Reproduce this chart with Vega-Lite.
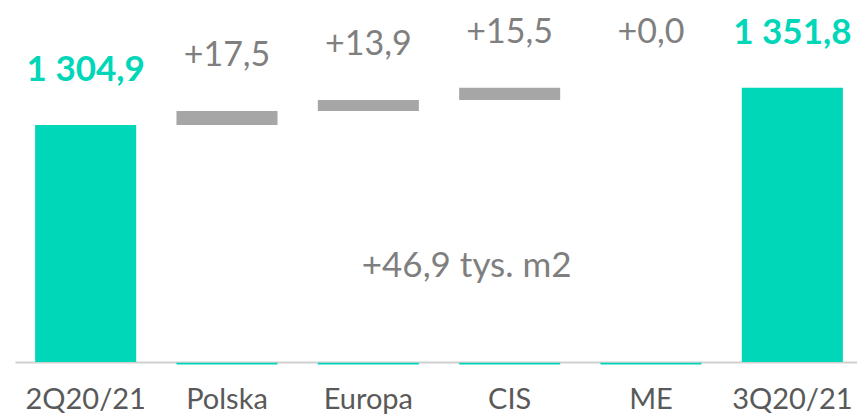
{
  "$schema": "https://vega.github.io/schema/vega-lite/v6.json",
  "autosize": "none",
  "width": 848,
  "height": 362,
  "padding": {"left": 15, "top": 0, "right": 0, "bottom": 52},
  "background": "white",
  "config": {"view": {"stroke": null}, "font": "Lato"},
  "data": {
    "values": [
      {"cat": "2Q20/21", "start": null, "end": 1304.9, "label": "1 304,9", "type": "total"},
      {"cat": "Polska", "start": 1304.9, "end": 1322.4, "label": "+17,5", "type": "step"},
      {"cat": "Europa", "start": 1322.4, "end": 1336.3, "label": "+13,9", "type": "step"},
      {"cat": "CIS", "start": 1336.3, "end": 1351.8, "label": "+15,5", "type": "step"},
      {"cat": "ME", "start": 1351.8, "end": 1351.8, "label": "+0,0", "type": "step"},
      {"cat": "3Q20/21", "start": null, "end": 1351.8, "label": "1 351,8", "type": "total"}
    ]
  },
  "encoding": {
    "x": {
      "field": "cat",
      "type": "nominal",
      "sort": ["2Q20/21", "Polska", "Europa", "CIS", "ME", "3Q20/21"],
      "scale": {"domain": ["2Q20/21", "Polska", "Europa", "CIS", "ME", "3Q20/21"], "paddingInner": 0.285, "paddingOuter": 0.1425},
      "axis": {
        "title": null,
        "labelAngle": 0,
        "ticks": false,
        "domainColor": "#D0D0D0",
        "domainWidth": 2,
        "labelFont": "Lato",
        "labelFontSize": 29,
        "labelColor": "#595959",
        "labelBaseline": "alphabetic",
        "labelPadding": 46
      }
    }
  },
  "layer": [
    {
      "transform": [{"filter": "datum.type == 'total'"}],
      "mark": {"type": "bar", "color": "#00D6B8", "clip": true},
      "encoding": {
        "y": {"field": "end", "type": "quantitative", "scale": {"domain": [1007, 1462], "zero": false, "nice": false}, "axis": null}
      }
    },
    {
      "transform": [{"filter": "datum.type == 'step'"}],
      "mark": {"type": "bar", "color": "#A6A6A6"},
      "encoding": {
        "y": {"field": "start", "type": "quantitative"},
        "y2": {"field": "end"}
      }
    },
    {
      "transform": [{"filter": "datum.type == 'step'"}],
      "mark": {"type": "bar", "color": "#00D6B8", "clip": false},
      "encoding": {
        "y": {"datum": 1004.0, "type": "quantitative"},
        "y2": {"datum": 1006.1}
      }
    },
    {
      "transform": [{"filter": "datum.type == 'total'"}],
      "mark": {"type": "text", "font": "Lato", "fontWeight": "bold", "fontSize": 35, "color": "#00D6B8", "baseline": "alphabetic", "dy": -44},
      "encoding": {
        "y": {"field": "end", "type": "quantitative"},
        "text": {"field": "label"}
      }
    },
    {
      "transform": [{"filter": "datum.type == 'step'"}],
      "mark": {"type": "text", "font": "Lato", "fontSize": 34, "color": "#7F7F7F", "baseline": "alphabetic", "dy": -45},
      "encoding": {
        "y": {"field": "end", "type": "quantitative"},
        "text": {"field": "label"}
      }
    },
    {
      "data": {"values": [{"note": "+46,9 tys. m2"}]},
      "mark": {"type": "text", "font": "Lato", "fontSize": 35, "color": "#7F7F7F", "baseline": "alphabetic", "dx": -43},
      "encoding": {
        "x": {"datum": "CIS", "type": "nominal"},
        "y": {"datum": 1114, "type": "quantitative"},
        "text": {"field": "note"}
      }
    }
  ]
}
